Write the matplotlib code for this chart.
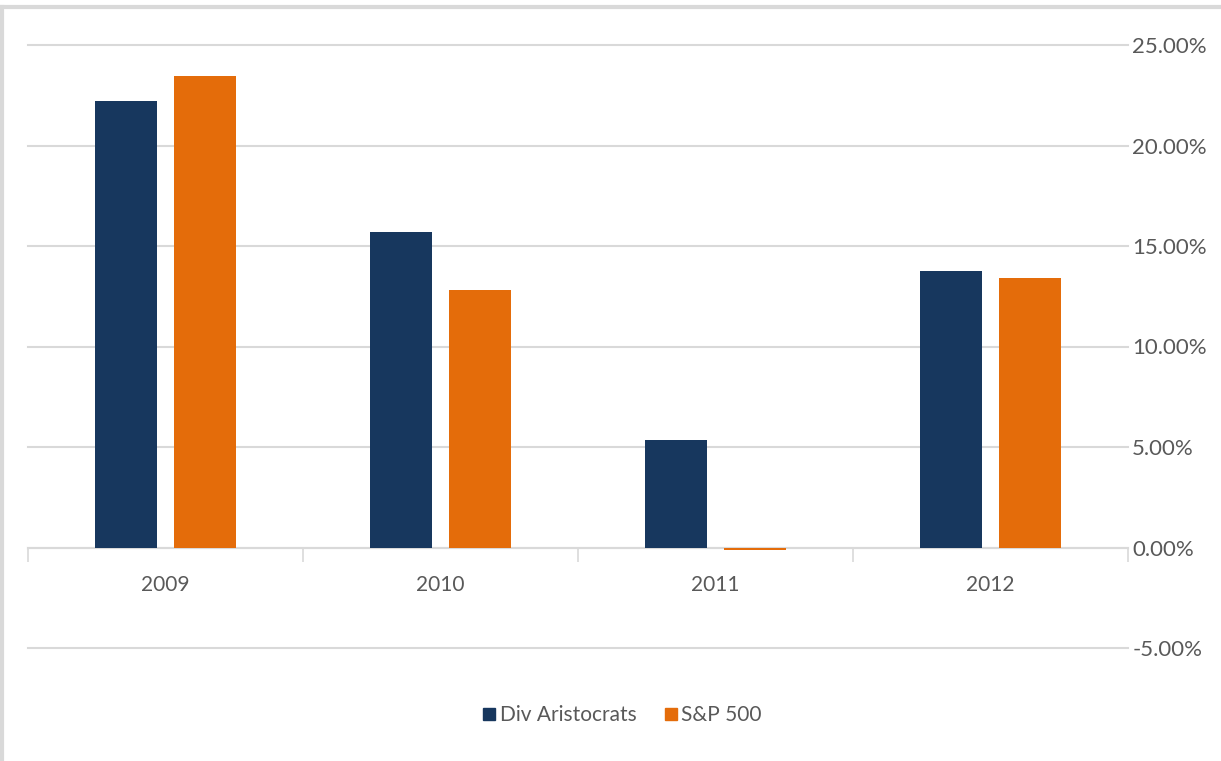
import matplotlib
matplotlib.use("Agg")
import matplotlib.pyplot as plt
from matplotlib.ticker import FuncFormatter, FixedLocator
from matplotlib.lines import Line2D
import numpy as np

years = ["2009", "2010", "2011", "2012"]
div_aristocrats = [22.2, 15.7, 5.37, 13.77]
sp500 = [23.45, 12.82, -0.12, 13.42]
series_names = ["Div Aristocrats", "S&P 500"]
yticks = [-5, 0, 5, 10, 15, 20, 25]

navy = "#17375E"
orange = "#E46C0A"
grid = "#D9D9D9"
txt = "#595959"

plt.rcParams['font.family'] = ['Lato', 'DejaVu Sans']
fs = 15

W, H = 1221, 761
fig = plt.figure(figsize=(W/100, H/100), dpi=100)
ax = fig.add_axes([28/W, (H-648)/H, 1100/W, 603/H])

x = np.arange(len(years))
bw = 0.225
off = 0.144
ax.bar(x - off, div_aristocrats, bw, color=navy, label=series_names[0], zorder=3)
ax.bar(x + off, sp500, bw, color=orange, label=series_names[1], zorder=3)

ax.set_xlim(-0.5, len(years) - 0.5)
ax.set_ylim(-5, 25)
ax.set_yticks(yticks)
ax.yaxis.set_major_formatter(FuncFormatter(lambda v, p: f"{v:.2f}%"))
ax.yaxis.tick_right()
ax.tick_params(axis='y', length=0, pad=3, labelsize=16, labelcolor=txt)
ax.grid(axis='y', color=grid, lw=1.5, zorder=0)
for gl in ax.get_ygridlines():
    gl.set_clip_on(False)

for s in ['top', 'left', 'right']:
    ax.spines[s].set_visible(False)
ax.spines['bottom'].set_position(('data', 0))
ax.spines['bottom'].set_color(grid)
ax.spines['bottom'].set_linewidth(1.5)
ax.spines['bottom'].set_zorder(2)

ax.set_xticks(x)
ax.set_xticklabels(years)
ax.xaxis.set_minor_locator(FixedLocator(np.arange(-0.5, len(years), 1.0)))
ax.tick_params(axis='x', which='major', length=0, pad=20, labelsize=fs, labelcolor=txt)
ax.tick_params(axis='x', which='minor', length=10, width=1.2, color=grid, direction='out')

handles = [Line2D([0], [0], marker='s', linestyle='none', markersize=8.5, markerfacecolor=navy, markeredgecolor=navy),
           Line2D([0], [0], marker='s', linestyle='none', markersize=8.5, markerfacecolor=orange, markeredgecolor=orange)]
leg = fig.legend(handles, series_names, loc='center', bbox_to_anchor=(622/W, 1 - 715/H), ncol=2,
                 frameon=False, fontsize=fs, handletextpad=0.15, columnspacing=1.3, handlelength=0.7)
for t in leg.get_texts():
    t.set_color(txt)

# figure border (light gray)
fig.add_artist(Line2D([1.5/W, 1.5/W], [0, 1 - 6.5/H], color=grid, lw=3, transform=fig.transFigure))
fig.add_artist(Line2D([0, 1], [1 - 6.5/H, 1 - 6.5/H], color=grid, lw=3, transform=fig.transFigure))

fig.savefig("out.png", dpi=100)
